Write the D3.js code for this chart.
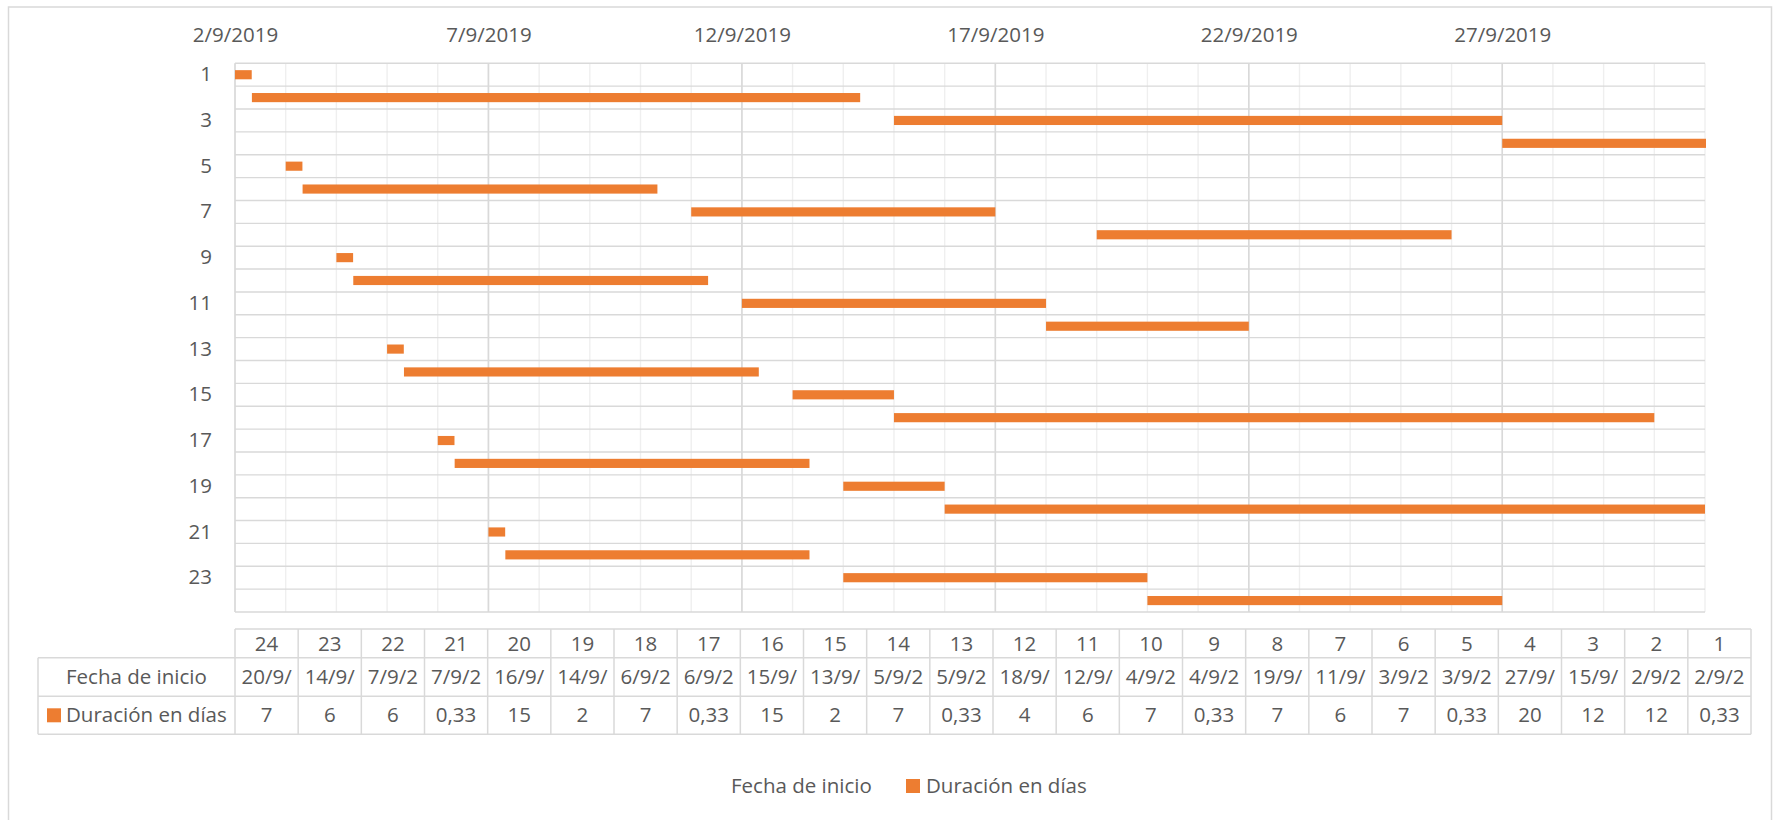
<!DOCTYPE html>
<html>
<head>
<meta charset="utf-8">
<script src="https://cdn.jsdelivr.net/npm/d3@7"></script>
<style>
  html, body { margin: 0; padding: 0; background: #fff; }
  svg { display: block; font-family: 'Open Sans', sans-serif; }
</style>
</head>
<body>
<svg id="chart" width="1780" height="820"></svg>
<script>
// Task rows (top to bottom), start date/time and duration in days
const categories = [1, 2, 3, 4, 5, 6, 7, 8, 9, 10, 11, 12, 13, 14, 15, 16, 17, 18, 19, 20, 21, 22, 23, 24];
const startDates = [
  "2019-09-02 00:00", "2019-09-02 08:00", "2019-09-15 00:00", "2019-09-27 00:00",
  "2019-09-03 00:00", "2019-09-03 08:00", "2019-09-11 00:00", "2019-09-19 00:00",
  "2019-09-04 00:00", "2019-09-04 08:00", "2019-09-12 00:00", "2019-09-18 00:00",
  "2019-09-05 00:00", "2019-09-05 08:00", "2019-09-13 00:00", "2019-09-15 00:00",
  "2019-09-06 00:00", "2019-09-06 08:00", "2019-09-14 00:00", "2019-09-16 00:00",
  "2019-09-07 00:00", "2019-09-07 08:00", "2019-09-14 00:00", "2019-09-20 00:00"
];
const durations = [0.33, 12, 12, 20, 0.33, 7, 6, 7, 0.33, 7, 6, 4, 0.33, 7, 2, 15, 0.33, 7, 2, 15, 0.33, 6, 6, 7];
const seriesNames = ["Fecha de inicio", "Duración en días"];
const dateTicks = ["2019-09-02", "2019-09-07", "2019-09-12", "2019-09-17", "2019-09-22", "2019-09-27"];
const axisDomain = ["2019-09-02 00:00", "2019-10-01 00:00"];
const labelledRows = [1, 3, 5, 7, 9, 11, 13, 15, 17, 19, 21, 23];

// Layout
const plot = { left: 235, right: 1705, top: 63.3, bottom: 612 };
const table = { left: 38, colLeft: 235, right: 1751, top: 629, row1: 657.7, row2: 696.3, bottom: 734.3 };
const ink = "#595959", gridColor = "#d9d9d9", minorColor = "#efefef", barColor = "#ED7D31";
const fontSize = "20.5px";

const parse = d3.timeParse("%Y-%m-%d %H:%M");
const parseDay = d3.timeParse("%Y-%m-%d");
const fmtDate = d3.timeFormat("%-d/%-m/%Y");
const fmtNum = v => String(v).replace(".", ",");

const tasks = categories.map((c, i) => {
  const s = parse(startDates[i]);
  return { cat: c, start: s, end: new Date(+s + durations[i] * 864e5), dur: durations[i], label: fmtDate(s) };
});

const svg = d3.select("#chart");

// Chart frame
svg.append("rect")
  .attr("x", 8.5).attr("y", 7).attr("width", 1763).attr("height", 840)
  .attr("fill", "#fff").attr("stroke", gridColor).attr("stroke-width", 1.5);

const x = d3.scaleTime().domain(axisDomain.map(parse)).range([plot.left, plot.right]);
const y = d3.scaleBand().domain(categories).range([plot.top, plot.bottom])
  .paddingInner(0.6).paddingOuter(0.3);
const step = y.step();

// Gridlines: daily minor, row separators, 5-day major
const grid = svg.append("g");
const days = d3.timeDay.range(x.domain()[0], new Date(+x.domain()[1] + 1));
grid.selectAll("line.minor").data(days).join("line")
  .attr("x1", d => x(d)).attr("x2", d => x(d))
  .attr("y1", plot.top).attr("y2", plot.bottom)
  .attr("stroke", minorColor).attr("stroke-width", 1.4);
grid.selectAll("line.row").data(d3.range(categories.length + 1)).join("line")
  .attr("x1", plot.left).attr("x2", plot.right)
  .attr("y1", k => plot.top + k * step).attr("y2", k => plot.top + k * step)
  .attr("stroke", gridColor).attr("stroke-width", 1.4);
grid.selectAll("line.major").data(dateTicks.map(parseDay)).join("line")
  .attr("x1", d => x(d)).attr("x2", d => x(d))
  .attr("y1", plot.top).attr("y2", plot.bottom)
  .attr("stroke", gridColor).attr("stroke-width", 1.6);

// Bars
svg.append("clipPath").attr("id", "plotClip").append("rect")
  .attr("x", plot.left).attr("y", plot.top)
  .attr("width", plot.right - plot.left + 1).attr("height", plot.bottom - plot.top);
svg.append("g").attr("clip-path", "url(#plotClip)")
  .selectAll("rect").data(tasks).join("rect")
  .attr("x", d => x(d.start))
  .attr("y", d => y(d.cat))
  .attr("width", d => x(d.end) - x(d.start))
  .attr("height", y.bandwidth())
  .attr("fill", barColor);

// Axes
function styleAxis(g) {
  g.select(".domain").remove();
  g.selectAll("text").attr("fill", ink).style("font-size", fontSize).style("font-family", "'Open Sans', sans-serif");
}
svg.append("g").attr("transform", `translate(0,${plot.top})`)
  .call(d3.axisTop(x).tickValues(dateTicks.map(parseDay)).tickFormat(fmtDate).tickSize(0).tickPadding(21))
  .call(styleAxis);
svg.append("g").attr("transform", `translate(${plot.left},0)`)
  .call(d3.axisLeft(y).tickValues(labelledRows).tickSize(0).tickPadding(23))
  .call(styleAxis);

// Data table
const col = d3.scaleBand().domain(categories.slice().reverse()).range([table.colLeft, table.right]);
const tg = svg.append("g");
const lineStyle = sel => sel.attr("stroke", gridColor).attr("stroke-width", 1.5);
tg.append("line").attr("x1", table.colLeft).attr("x2", table.right).attr("y1", table.top).attr("y2", table.top).call(lineStyle);
[table.row1, table.row2, table.bottom].forEach(yy =>
  tg.append("line").attr("x1", table.left).attr("x2", table.right).attr("y1", yy).attr("y2", yy).call(lineStyle));
tg.append("line").attr("x1", table.left).attr("x2", table.left).attr("y1", table.row1).attr("y2", table.bottom).call(lineStyle);
tg.selectAll("line.colsep").data(d3.range(categories.length + 1)).join("line")
  .attr("x1", k => table.colLeft + k * col.bandwidth()).attr("x2", k => table.colLeft + k * col.bandwidth())
  .attr("y1", table.top).attr("y2", table.bottom).call(lineStyle);

const txt = (sel) => sel.attr("fill", ink).style("font-size", fontSize).attr("dy", "0.35em");
const cx = d => col(d.cat) + col.bandwidth() / 2;
tg.selectAll("text.cat").data(tasks).join("text").call(txt)
  .attr("x", cx).attr("y", (table.top + table.row1) / 2).attr("text-anchor", "middle")
  .text(d => d.cat);
tg.selectAll("text.start").data(tasks).join("text").call(txt)
  .attr("x", cx).attr("y", (table.row1 + table.row2) / 2).attr("text-anchor", "middle")
  .text(d => d.label)
  .each(function () {
    // cell is too narrow for the full date: keep only the characters that fit
    const el = d3.select(this);
    let s = el.text();
    while (s.length > 1 && this.getComputedTextLength() > col.bandwidth() - 6) {
      s = s.slice(0, -1);
      el.text(s);
    }
  });
tg.selectAll("text.dur").data(tasks).join("text").call(txt)
  .attr("x", cx).attr("y", (table.row2 + table.bottom) / 2).attr("text-anchor", "middle")
  .text(d => fmtNum(d.dur));

// Row headers with legend keys
tg.append("text").call(txt).attr("x", 66).attr("y", (table.row1 + table.row2) / 2).text(seriesNames[0]);
tg.append("rect").attr("x", 47).attr("y", (table.row2 + table.bottom) / 2 - 7).attr("width", 14).attr("height", 14).attr("fill", barColor);
tg.append("text").call(txt).attr("x", 66).attr("y", (table.row2 + table.bottom) / 2).text(seriesNames[1]);

// Legend
const legendY = 786;
const legend = svg.append("g");
const legendItems = [
  { name: seriesNames[0], keyX: 711, fill: "none" },
  { name: seriesNames[1], keyX: 906, fill: barColor }
];
legendItems.forEach(it => {
  legend.append("rect").attr("x", it.keyX).attr("y", legendY - 7).attr("width", 14).attr("height", 14).attr("fill", it.fill);
  legend.append("text").call(txt).attr("x", it.keyX + 20).attr("y", legendY).text(it.name);
});
</script>
</body>
</html>
